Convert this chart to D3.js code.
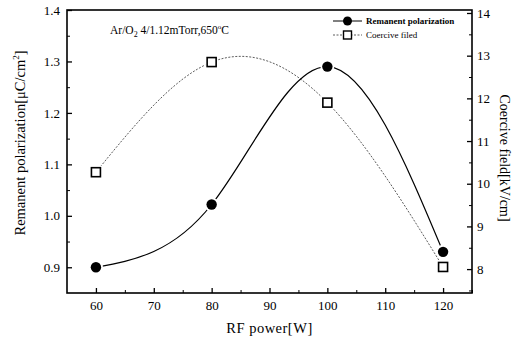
<!DOCTYPE html>
<html>
<head>
<meta charset="utf-8">
<script src="https://cdn.jsdelivr.net/npm/d3@7"></script>
<style>
  body { margin: 0; background: #fff; }
  svg { display: block; font-family: 'Liberation Serif', 'DejaVu Serif', serif; }
</style>
</head>
<body>
<svg id="chart" width="520" height="343"></svg>
<script>
// values
const power = [60, 80, 100, 120];
const remanent = [0.90, 1.022, 1.29, 0.93];
const coercive = [10.27, 12.85, 11.9, 8.05];
const xTicks = [60, 70, 80, 90, 100, 110, 120];
const leftTicks = [0.9, 1.0, 1.1, 1.2, 1.3, 1.4];
const rightTicks = [8, 9, 10, 11, 12, 13, 14];

const margin = { top: 10, right: 48, bottom: 50, left: 67 };
const width = 520;
const height = 343;

const svg = d3.select('#chart');

const x = d3.scaleLinear()
  .domain([55, 125])
  .range([margin.left, width - margin.right]);

const yL = d3.scaleLinear()
  .domain([0.85, 1.4])
  .range([height - margin.bottom, margin.top]);

const yR = d3.scaleLinear()
  .domain([7.44, 14.07])
  .range([height - margin.bottom, margin.top]);

const minor = (a, b, step) => d3.range(a, b + 1e-9, step);

// minor ticks
svg.append('g')
  .attr('transform', `translate(0,${height - margin.bottom})`)
  .call(d3.axisBottom(x).tickValues(minor(65, 125, 10)).tickSize(-3).tickFormat(''))
  .call(g => g.select('.domain').remove());
svg.append('g')
  .attr('transform', `translate(${margin.left},0)`)
  .call(d3.axisLeft(yL).tickValues(minor(0.95, 1.35, 0.1)).tickSize(-3).tickFormat(''))
  .call(g => g.select('.domain').remove());
svg.append('g')
  .attr('transform', `translate(${width - margin.right},0)`)
  .call(d3.axisRight(yR).tickValues(minor(7.5, 13.5, 1)).tickSize(-3).tickFormat(''))
  .call(g => g.select('.domain').remove());

// major axes
const styleAxis = g => {
  g.select('.domain').remove();
  g.selectAll('line').attr('stroke', '#000').attr('stroke-width', 1.3);
  g.selectAll('text')
    .attr('font-family', "'Liberation Serif', serif")
    .attr('font-size', 13)
    .attr('fill', '#000');
};

svg.append('g')
  .attr('transform', `translate(0,${height - margin.bottom})`)
  .call(d3.axisBottom(x).tickValues(xTicks).tickSize(-5).tickPadding(8))
  .call(styleAxis);

svg.append('g')
  .attr('transform', `translate(${margin.left},0)`)
  .call(d3.axisLeft(yL).tickValues(leftTicks).tickSize(-5).tickPadding(7)
    .tickFormat(d3.format('.1f')))
  .call(styleAxis);

svg.append('g')
  .attr('transform', `translate(${width - margin.right},0)`)
  .call(d3.axisRight(yR).tickValues(rightTicks).tickSize(-5).tickPadding(5)
    .tickFormat(d3.format('d')))
  .call(styleAxis);

svg.selectAll('.tick line').attr('stroke', '#000');

// frame
svg.append('rect')
  .attr('x', margin.left)
  .attr('y', margin.top)
  .attr('width', width - margin.left - margin.right)
  .attr('height', height - margin.top - margin.bottom)
  .attr('fill', 'none')
  .attr('stroke', '#000')
  .attr('stroke-width', 1.6);

// curves
const lineL = d3.line()
  .x((d, i) => x(power[i]))
  .y(d => yL(d))
  .curve(d3.curveNatural);

const lineR = d3.line()
  .x((d, i) => x(power[i]))
  .y(d => yR(d))
  .curve(d3.curveNatural);

svg.append('path')
  .attr('d', lineR(coercive))
  .attr('fill', 'none')
  .attr('stroke', '#333')
  .attr('stroke-width', 0.8)
  .attr('stroke-dasharray', '2,1.5');

svg.append('path')
  .attr('d', lineL(remanent))
  .attr('fill', 'none')
  .attr('stroke', '#000')
  .attr('stroke-width', 1.2);

// markers with white halo
svg.append('g').selectAll('rect')
  .data(coercive)
  .join('rect')
  .attr('x', (d, i) => x(power[i]) - 6.5)
  .attr('y', d => yR(d) - 6.5)
  .attr('width', 13)
  .attr('height', 13)
  .attr('fill', '#fff');

svg.append('g').selectAll('rect')
  .data(coercive)
  .join('rect')
  .attr('x', (d, i) => x(power[i]) - 4.5)
  .attr('y', d => yR(d) - 4.5)
  .attr('width', 9)
  .attr('height', 9)
  .attr('fill', '#fff')
  .attr('stroke', '#000')
  .attr('stroke-width', 1.6);

svg.append('g').selectAll('circle')
  .data(remanent)
  .join('circle')
  .attr('cx', (d, i) => x(power[i]))
  .attr('cy', d => yL(d))
  .attr('r', 7)
  .attr('fill', '#fff');

svg.append('g').selectAll('circle')
  .data(remanent)
  .join('circle')
  .attr('cx', (d, i) => x(power[i]))
  .attr('cy', d => yL(d))
  .attr('r', 5.2)
  .attr('fill', '#000');

// legend
const legend = svg.append('g').attr('font-size', 9).attr('font-weight', 'bold');
const lx = 333, lw = 29;

legend.append('line')
  .attr('x1', lx).attr('x2', lx + lw).attr('y1', 21).attr('y2', 21)
  .attr('stroke', '#000').attr('stroke-width', 1);
legend.append('circle')
  .attr('cx', lx + lw / 2).attr('cy', 21).attr('r', 4.5).attr('fill', '#000');
legend.append('text')
  .attr('x', lx + lw + 4).attr('y', 24).text('Remanent polarization');

legend.append('line')
  .attr('x1', lx).attr('x2', lx + lw).attr('y1', 35).attr('y2', 35)
  .attr('stroke', '#333').attr('stroke-width', 0.8).attr('stroke-dasharray', '2,1.5');
legend.append('rect')
  .attr('x', lx + lw / 2 - 4).attr('y', 31).attr('width', 8).attr('height', 8)
  .attr('fill', '#fff').attr('stroke', '#000').attr('stroke-width', 1.4);
legend.append('text')
  .attr('x', lx + lw + 4).attr('y', 38).attr('font-weight', 'normal').text('Coercive filed');

// annotation
const note = svg.append('text')
  .attr('x', 110).attr('y', 34)
  .attr('font-size', 11.5);
note.append('tspan').text('Ar/O');
note.append('tspan').attr('font-size', 8).attr('dy', 3).text('2');
note.append('tspan').attr('dy', -3).text(' 4/1.12mTorr,650');
note.append('tspan').attr('font-size', 7).attr('dy', -5).text('o');
note.append('tspan').attr('dy', 5).text('C');

// axis titles
svg.append('text')
  .attr('x', (margin.left + width - margin.right) / 2)
  .attr('y', 333)
  .attr('text-anchor', 'middle')
  .attr('font-size', 14.5)
  .attr('letter-spacing', 0.5)
  .text('RF power[W]');

const leftTitle = svg.append('text')
  .attr('transform', 'translate(25,143) rotate(-90)')
  .attr('text-anchor', 'middle')
  .attr('font-size', 14.5);
leftTitle.append('tspan').text('Remanent polarization[μC/cm');
leftTitle.append('tspan').attr('font-size', 9).attr('dy', -6).text('2');
leftTitle.append('tspan').attr('dy', 6).text(']');

svg.append('text')
  .attr('transform', 'translate(500,158) rotate(90)')
  .attr('text-anchor', 'middle')
  .attr('font-size', 14)
  .text('Coercive field[kV/cm]');
</script>
</body>
</html>
